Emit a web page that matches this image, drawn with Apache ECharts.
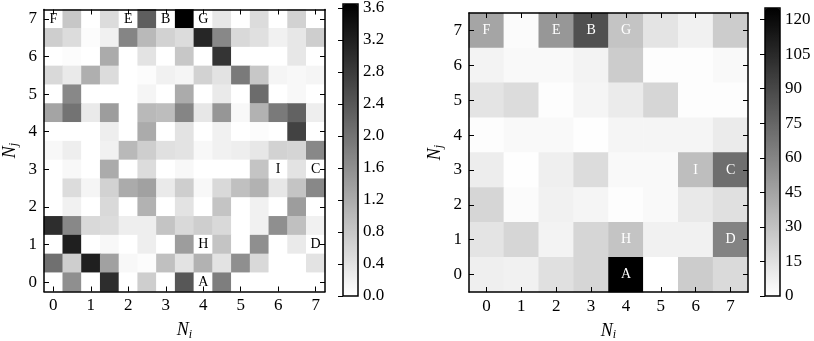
<!DOCTYPE html>
<html><head><meta charset="utf-8">
<script src="https://cdn.jsdelivr.net/npm/echarts@6/dist/echarts.min.js"></script>
<style>html,body{margin:0;padding:0;background:#fff}#c{width:814px;height:341px}</style>
</head><body><div id="c"></div>
<script>
// ---- data ----
const leftCats = ['0','0.5','1','1.5','2','2.5','3','3.5','4','4.5','5','5.5','6','6.5','7'];
const rightCats = ['0','1','2','3','4','5','6','7'];
// rows listed from top (Nj = 7) to bottom (Nj = 0)
const leftValues = [
  [0, 0.8, 0, 0.5, 0, 2.3, 0, 3.65, 0, 0.35, 0, 0.5, 0, 0.65, 0],
  [0.7, 0.5, 0.05, 0.2, 1.75, 1.0, 0.65, 0.5, 3.1, 1.7, 0.55, 0.45, 0.2, 0.35, 0.7],
  [0, 0.05, 0, 1.2, 0, 0.4, 0, 0.8, 0, 2.9, 0, 0, 0, 0.35, 0],
  [0.55, 0.3, 1.15, 0.5, 0, 0.05, 0.2, 0.15, 0.65, 0.4, 1.9, 0.8, 0.15, 0.1, 0.15],
  [0, 1.7, 0, 0, 0, 0.15, 0, 1.2, 0, 0.3, 0, 2.1, 0, 0.1, 0],
  [1.3, 2.0, 0.3, 1.4, 0, 1.0, 0.95, 1.75, 0.35, 1.5, 0.1, 1.1, 1.9, 2.25, 0.25],
  [0, 0, 0, 0.25, 0, 1.2, 0, 0.4, 0, 0.2, 0, 0.05, 0, 2.7, 0],
  [0.1, 0.25, 0, 0.2, 1.0, 0.7, 0.45, 0.4, 0.1, 0.2, 0.25, 0.35, 0.65, 0.6, 1.7],
  [0, 0.1, 0, 1.2, 0, 0.5, 0, 0.1, 0, 0, 0, 0.85, 0, 0.4, 0],
  [0, 0.5, 0.15, 0.65, 1.2, 1.35, 0.3, 0.7, 0.1, 0.55, 0.9, 1.1, 0.35, 0.85, 1.7],
  [0, 0.2, 0, 0.55, 0, 1.1, 0, 0.4, 0, 0.85, 0, 0.2, 0, 1.4, 0],
  [3.0, 1.7, 0.55, 0.5, 0.25, 0.25, 0.85, 0.55, 0.7, 0.55, 0, 0.2, 1.6, 0.9, 0.2],
  [0, 3.2, 0, 0.1, 0, 0.25, 0, 1.4, 0, 0.85, 0, 1.6, 0, 0.3, 0],
  [2.05, 0.7, 3.2, 1.35, 0.1, 0.05, 0.9, 0.4, 1.1, 0.4, 1.6, 0.55, 0, 0, 0.4],
  [0, 1.6, 0, 3.0, 0, 0.7, 0, 2.4, 0, 1.85, 0, 0, 0, 0, 0]
];
const rightValues = [
  [44, 2, 51, 86, 29, 13, 7, 25],
  [6, 3, 3, 6, 25, 1, 1, 3],
  [13, 17, 1, 5, 10, 20, 1, 1],
  [1, 3, 3, 0.5, 5, 5, 5, 10],
  [9, 0.5, 8, 17, 3, 3, 32, 71],
  [20, 2, 7, 5, 1, 3, 11, 15],
  [13, 20, 6, 20, 29, 7, 7, 61],
  [8, 7, 15, 20, 125, 0, 25, 18]
];
const markers = [['A',4,0],['B',3,7],['C',7,3],['D',7,1],['E',2,7],['F',0,7],['G',4,7],['H',4,1],['I',6,3]];
const leftScaleMax = 3.65, leftTickStep = 0.4;
const rightScaleMax = 125, rightTickStep = 15;

// ---- build ----
function toCells(rows){
  const out = [], n = rows.length;
  rows.forEach((row, i) => row.forEach((v, c) => out.push([c, n - 1 - i, v])));
  return out;
}
function markerAt(cats, p){
  const x = +cats[p.value[0]], y = +cats[p.value[1]];
  const m = markers.find(k => k[1] === x && k[2] === y);
  return m ? m[0] : '';
}
const FONT = 'Liberation Serif';
const nameRich = {
  n: {fontFamily: FONT, fontStyle: 'italic', fontSize: 18, color: '#000'},
  s: {fontFamily: FONT, fontStyle: 'italic', fontSize: 12, color: '#000', padding: [8,0,0,0]}
};
function xAx(gi, cats, pos, interval, withName){
  return {
    type: 'category', gridIndex: gi, data: cats, position: pos, z: 5,
    boundaryGap: true,
    axisLine: {show: true, onZero: false, lineStyle: {color: '#000', width: 1.5}},
    axisTick: {show: true, inside: true, length: 5, alignWithLabel: true, interval: interval, lineStyle: {color: '#000', width: 1}},
    axisLabel: {show: pos === 'bottom', interval: interval, margin: 6, fontFamily: FONT, fontSize: 17, color: '#000'},
    splitLine: {show: false},
    name: withName ? '{n|N}{s|i}' : '', nameLocation: 'middle', nameGap: 29,
    nameTextStyle: {rich: nameRich}
  };
}
function yAx(gi, cats, pos, interval, withName){
  return {
    type: 'category', gridIndex: gi, data: cats, position: pos, z: 5,
    boundaryGap: true,
    axisLine: {show: true, onZero: false, lineStyle: {color: '#000', width: 1.5}},
    axisTick: {show: true, inside: true, length: 5, alignWithLabel: true, interval: interval, lineStyle: {color: '#000', width: 1}},
    axisLabel: {show: pos === 'left', interval: interval, margin: 7, fontFamily: FONT, fontSize: 17, color: '#000'},
    splitLine: {show: false},
    name: withName ? '{n|N}{s|j}' : '', nameLocation: 'middle', nameGap: 24, nameRotate: 90,
    nameTextStyle: {rich: nameRich}
  };
}
function cbAxis(gi, max, step, digits){
  return {
    type: 'value', gridIndex: gi, position: 'right', min: 0, max: max, interval: step, z: 7,
    axisLine: {show: false},
    axisTick: {show: true, inside: true, length: 5, lineStyle: {color: '#000', width: 1}},
    axisLabel: {show: true, showMaxLabel: false, margin: 5, fontFamily: FONT, fontSize: 17, color: '#000',
      formatter: v => (Math.abs(v/step - Math.round(v/step)) > 1e-6) ? '' : v.toFixed(digits)},
    splitLine: {show: false}
  };
}

const option = {
  animation: false,
  backgroundColor: '#fff',
  grid: [
    {left: 44, top: 9.5, width: 281, height: 282, outerBoundsMode: 'none', containLabel: false},
    {left: 469, top: 13, width: 279, height: 279, outerBoundsMode: 'none', containLabel: false},
    {left: 343, top: 4, width: 15, height: 292, show: true, borderColor: '#000', borderWidth: 1.5, backgroundColor: 'transparent', z: 6, outerBoundsMode: 'none'},
    {left: 765, top: 8, width: 15, height: 288, show: true, borderColor: '#000', borderWidth: 1.5, backgroundColor: 'transparent', z: 6, outerBoundsMode: 'none'}
  ],
  xAxis: [
    xAx(0, leftCats, 'bottom', 1, true),
    xAx(0, leftCats, 'top', 1, false),
    xAx(1, rightCats, 'bottom', 0, true),
    xAx(1, rightCats, 'top', 0, false),
    {type: 'value', gridIndex: 2, show: false, min: 0, max: 1},
    {type: 'value', gridIndex: 3, show: false, min: 0, max: 1}
  ],
  yAxis: [
    yAx(0, leftCats, 'left', 1, true),
    yAx(0, leftCats, 'right', 1, false),
    yAx(1, rightCats, 'left', 0, true),
    yAx(1, rightCats, 'right', 0, false),
    cbAxis(2, leftScaleMax, leftTickStep, 1),
    cbAxis(3, rightScaleMax, rightTickStep, 0)
  ],
  visualMap: [
    {type: 'continuous', seriesIndex: 0, min: 0, max: leftScaleMax, inRange: {color: ['#ffffff', '#000000']},
     left: 343, top: 4, itemWidth: 15, itemHeight: 292, padding: 0, calculable: false, hoverLink: false, text: null, show: true},
    {type: 'continuous', seriesIndex: 1, min: 0, max: rightScaleMax, inRange: {color: ['#ffffff', '#000000']},
     left: 765, top: 8, itemWidth: 15, itemHeight: 288, padding: 0, calculable: false, hoverLink: false, text: null, show: true}
  ],
  series: [
    {type: 'heatmap', xAxisIndex: 0, yAxisIndex: 0, data: toCells(leftValues),
     label: {show: true, formatter: p => markerAt(leftCats, p), fontFamily: FONT, fontSize: 14, color: '#000'},
     emphasis: {disabled: true}},
    {type: 'heatmap', xAxisIndex: 2, yAxisIndex: 2, data: toCells(rightValues),
     label: {show: true, formatter: p => markerAt(rightCats, p), fontFamily: FONT, fontSize: 14, color: '#fff'},
     emphasis: {disabled: true}}
  ]
};
const chart = echarts.init(document.getElementById('c'), null, {renderer: 'canvas'});
chart.setOption(option);
</script>
</body></html>
